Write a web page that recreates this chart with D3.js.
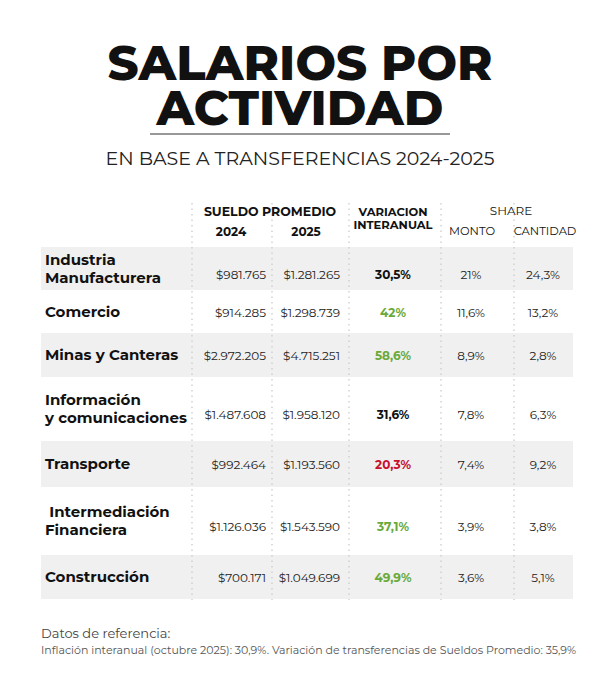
<!DOCTYPE html><html><head><meta charset="utf-8">
<script src="https://cdn.jsdelivr.net/npm/d3@7"></script>
<style>body{margin:0;background:#fff}text{font-family:Montserrat,"Open Sans",sans-serif}</style></head><body>
<svg id="c" width="600" height="694"></svg>
<script>
const categories=[["Industria","Manufacturera"],["Comercio"],["Minas y Canteras"],["Información","y comunicaciones"],["Transporte"],[" Intermediación","Financiera"],["Construcción"]];
const sueldo2024=["$981.765","$914.285","$2.972.205","$1.487.608","$992.464","$1.126.036","$700.171"];
const sueldo2025=["$1.281.265","$1.298.739","$4.715.251","$1.958.120","$1.193.560","$1.543.590","$1.049.699"];
const variacionLabels=["30,5%","42%","58,6%","31,6%","20,3%","37,1%","49,9%"];
const variacionTone=["neutral","up","up","neutral","down","up","up"];
const shareMonto=["21%","11,6%","8,9%","7,8%","7,4%","3,9%","3,6%"];
const shareCantidad=["24,3%","13,2%","2,8%","6,3%","9,2%","3,8%","5,1%"];
const rowBounds=[247,290,333,377,441,487,555,599];
const toneColor={neutral:"#111",up:"#6aaa3a",down:"#c8102e"};

const svg=d3.select("#c");
svg.append("text").attr("x",300).attr("y",80).attr("text-anchor","middle").attr("font-size",48).attr("font-weight",800).attr("fill","#111").text("SALARIOS POR");
svg.append("text").attr("x",300).attr("y",125).attr("text-anchor","middle").attr("font-size",48).attr("font-weight",800).attr("fill","#111").text("ACTIVIDAD");
svg.append("line").attr("x1",150).attr("x2",450).attr("y1",134).attr("y2",134).attr("stroke","#333").attr("stroke-width",1);
svg.append("text").attr("x",300).attr("y",165).attr("text-anchor","middle").attr("font-size",19).attr("fill","#222").text("EN BASE A TRANSFERENCIAS 2024-2025");

const y=d3.scaleOrdinal().domain(d3.range(7)).range(rowBounds.slice(0,7));
const rows=svg.append("g").selectAll("g").data(categories).join("g");
rows.append("rect").attr("x",41).attr("width",532).attr("y",(d,i)=>y(i)).attr("height",(d,i)=>rowBounds[i+1]-rowBounds[i])
 .attr("fill",(d,i)=>i%2===0?"#f0f0f0":"#fff");
const mid=i=>(rowBounds[i]+rowBounds[i+1])/2;
rows.each(function(d,i){
  const g=d3.select(this), n=d.length;
  d.forEach((l,k)=>g.append("text").attr("x",45).attr("y",mid(i)+5+(k-(n-1)/2)*18).attr("font-size",15).attr("font-weight",700).attr("fill","#111").attr("xml:space","preserve").text(l));
  const cy=mid(i)+5+(n>1?5:0);
  const t=(x,s,a,c,w)=>g.append("text").attr("x",x).attr("y",cy).attr("text-anchor",a).attr("font-size",12).attr("font-weight",w||400).attr("fill",c||"#222").text(s);
  t(266,sueldo2024[i],"end");
  t(340,sueldo2025[i],"end");
  t(393,variacionLabels[i],"middle",toneColor[variacionTone[i]],700);
  t(471,shareMonto[i],"middle");
  t(543,shareCantidad[i],"middle");
});
[192,272,349,441,514].forEach(x=>svg.append("line").attr("x1",x).attr("x2",x).attr("y1",203).attr("y2",600).attr("stroke","#c8c8c8").attr("stroke-width",1.2).attr("stroke-dasharray","1.5,4"));
const h=(x,yy,s,w,sz)=>svg.append("text").attr("x",x).attr("y",yy).attr("text-anchor","middle").attr("font-size",sz||12).attr("font-weight",w).attr("fill","#111").text(s);
h(270,216,"SUELDO PROMEDIO",700,12.5);h(231,236,"2024",700);h(306,236,"2025",700);
h(393,216,"VARIACION",700,11.5);h(393,229,"INTERANUAL",700,11.5);
h(511,215,"SHARE",400);h(472,235,"MONTO",400,11.5);h(545,235,"CANTIDAD",400,11.5);
svg.append("text").attr("x",41).attr("y",638).attr("font-size",13).attr("fill","#444").text("Datos de referencia:");
svg.append("text").attr("x",41).attr("y",654).attr("font-size",11).attr("fill","#555").text("Inflación interanual (octubre 2025): 30,9%. Variación de transferencias de Sueldos Promedio: 35,9%");
</script></body></html>
